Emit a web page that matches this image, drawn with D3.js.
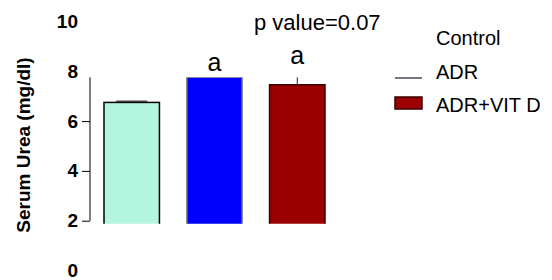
<!DOCTYPE html>
<html>
<head>
<meta charset="utf-8">
<script src="https://cdn.jsdelivr.net/npm/d3@7"></script>
<style>
    body { margin: 0; background: #fff; }
    text { font-family: Arial, "Liberation Sans", sans-serif; fill: #000; }
</style>
</head>
<body>
<div id="chart"></div>
<script>
// data
const groups = ["Control", "ADR", "ADR+VIT D"];
const means = [6.75, 7.76, 7.46];
const errors = [0.05, 0, 0.6];
const letters = ["", "a", "a"];
const colors = ["#b3f5de", "#0000ff", "#9b0000"];
const strokes = ["#000000", "#8a8a8a", "#3a0000"];
const yTicks = [0, 2, 4, 6, 8, 10];
const yTickMarks = [2, 4, 6];
const clipBottom = 1.88; // visible plot window, bars are cut at both ends
const clipTop = 7.76;
const pValue = "p value=0.07";

const width = 552, height = 280;

let svg = d3.select("#chart").append("svg")
    .attr("width", width)
    .attr("height", height);

let x = d3.scaleBand()
    .domain(groups)
    .range([104, 325])
    .paddingInner(0.33)
    .paddingOuter(0);

let y = d3.scaleLinear()
    .domain([0, 10])
    .range([270.5, 21.5]);

svg.append("defs").append("clipPath")
    .attr("id", "plot-clip")
    .append("rect")
    .attr("x", 0)
    .attr("y", y(clipTop))
    .attr("width", 400)
    .attr("height", y(clipBottom) - y(clipTop));

// y axis
let yAxis = d3.axisLeft(y)
    .tickValues(yTicks)
    .tickSize(8)
    .tickPadding(4)
    .tickFormat(d3.format("d"));

let axisG = svg.append("g")
    .attr("class", "y-axis")
    .attr("transform", "translate(90,0)")
    .call(yAxis);

axisG.select(".domain").remove();
axisG.selectAll(".tick line")
    .attr("stroke", "#000")
    .attr("stroke-width", 1)
    .style("display", d => yTickMarks.includes(d) ? null : "none");
axisG.selectAll(".tick text")
    .attr("font-size", 19)
    .attr("font-weight", "bold")
    .attr("font-family", "Arial, 'Liberation Sans', sans-serif")
    .attr("fill", "#000");
axisG.append("line")
    .attr("x1", 0).attr("x2", 0)
    .attr("y1", y(2))
    .attr("y2", y(clipTop))
    .attr("stroke", "#000");

svg.append("text")
    .attr("transform", "rotate(-90)")
    .attr("x", -145)
    .attr("y", 30)
    .attr("text-anchor", "middle")
    .attr("font-size", 19)
    .attr("font-weight", "bold")
    .text("Serum Urea (mg/dl)");

// bars, drawn from 0 and clipped to the visible window
let plot = svg.append("g").attr("clip-path", "url(#plot-clip)");

plot.selectAll(".bar")
    .data(groups)
    .enter().append("rect")
    .attr("class", "bar")
    .attr("x", d => x(d))
    .attr("y", (d, i) => y(means[i]))
    .attr("width", x.bandwidth())
    .attr("height", (d, i) => y(0) - y(means[i]))
    .attr("fill", (d, i) => colors[i])
    .attr("stroke", (d, i) => strokes[i])
    .attr("stroke-width", 1.5);

// error bars (upper half only)
let capW = x.bandwidth() * 0.56;
groups.forEach((g, i) => {
    if (!errors[i]) return;
    let cx = x(g) + x.bandwidth() / 2;
    plot.append("line")
        .attr("x1", cx).attr("x2", cx)
        .attr("y1", y(means[i]))
        .attr("y2", y(means[i] + errors[i]))
        .attr("stroke", "#222");
    plot.append("line")
        .attr("x1", cx - capW / 2).attr("x2", cx + capW / 2)
        .attr("y1", y(means[i] + errors[i]))
        .attr("y2", y(means[i] + errors[i]))
        .attr("stroke", "#444")
        .attr("stroke-width", 1.5);
});

// significance letters
svg.selectAll(".letter")
    .data(groups)
    .enter().append("text")
    .attr("class", "letter")
    .attr("x", d => x(d) + x.bandwidth() / 2)
    .attr("y", (d, i) => y(means[i] + errors[i]) - 6)
    .attr("text-anchor", "middle")
    .attr("font-size", 25)
    .text((d, i) => letters[i]);

svg.append("text")
    .attr("x", 254)
    .attr("y", 30)
    .attr("font-size", 22)
    .text(pValue);

// legend
let legend = svg.append("g")
    .attr("class", "legend")
    .attr("transform", "translate(395,45)");

let rowH = 33.5;
groups.forEach((g, i) => {
    let row = legend.append("g").attr("transform", "translate(0," + (i * rowH) + ")");
    if (i === 1) {
        row.append("line")
            .attr("x1", 0).attr("x2", 27)
            .attr("y1", -0.5).attr("y2", -0.5)
            .attr("stroke", "#1a1a3a")
            .attr("stroke-width", 1.2);
    } else if (i === 2) {
        row.append("rect")
            .attr("x", 0).attr("y", -15)
            .attr("width", 27).attr("height", 12)
            .attr("fill", colors[i])
            .attr("stroke", strokes[i])
            .attr("stroke-width", 1.5);
    }
    row.append("text")
        .attr("x", 41)
        .attr("y", 0)
        .attr("font-size", 20)
        .text(g);
});
</script>
</body>
</html>
